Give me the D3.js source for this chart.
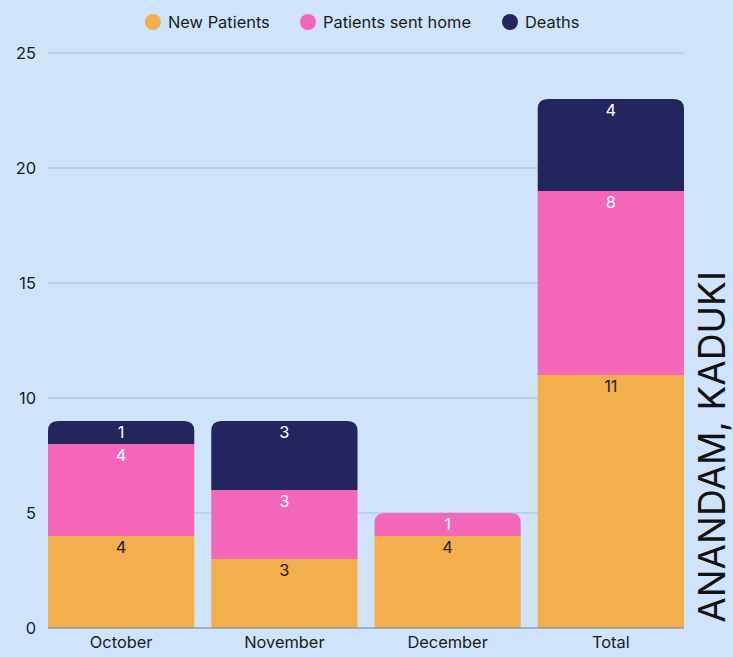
<!DOCTYPE html>
<html><head><meta charset="utf-8">
<script src="https://cdn.jsdelivr.net/npm/d3@7"></script>
<style>html,body{margin:0;padding:0;background:#cfe4fc;}svg{display:block;}</style>
</head><body><svg id="c" width="733" height="657"></svg>
<script>
const categories = ["October","November","December","Total"];
const seriesNames = ["New Patients","Patients sent home","Deaths"];
const newPatients = [4,3,4,11];
const sentHome = [4,3,1,8];
const deaths = [1,3,0,4];
const yTicks = [0,5,10,15,20,25];
const colors = ["#f3af4c","#f466b8","#23265e"];
const labelColors = ["#1a1a1a","#ffffff","#ffffff"];
const title = "ANANDAM, KADUKI";

const svg = d3.select("#c");
const font = "Inter, 'Noto Sans', sans-serif";
const fs = 16.4;
svg.append("rect").attr("width",733).attr("height",657).attr("fill","#cfe4fc");

const x = d3.scaleBand().domain(categories).range([48,684]).paddingInner(0.104).paddingOuter(0);
const y = d3.scaleLinear().domain([0,25]).range([628,53]);

// grid
svg.append("g").selectAll("line").data(yTicks.filter(d=>d>0)).join("line")
  .attr("x1",48).attr("x2",684).attr("y1",d=>y(d)).attr("y2",d=>y(d))
  .attr("stroke","#aabdd6").attr("stroke-width",1);

// y tick labels
svg.append("g").selectAll("text").data(yTicks).join("text")
  .attr("x",36).attr("y",d=>y(d)+5.5).attr("text-anchor","end")
  .attr("font-family",font).attr("font-size",fs).attr("fill","#1a1a1a").text(d=>d);

const data = categories.map((c,i)=>({cat:c, v:[newPatients[i],sentHome[i],deaths[i]]}));
const r = 10;
data.forEach(d=>{
  let base = 0;
  const top = d.v.reduce((a,b,i)=> b>0?i:a, 0);
  d.v.forEach((val,i)=>{
    if(val<=0) return;
    const x0 = x(d.cat), x1 = x0 + x.bandwidth();
    const yb = y(base), yt = y(base+val);
    let p;
    if(i===top){
      p = `M${x0},${yb}L${x0},${yt+r}Q${x0},${yt} ${x0+r},${yt}L${x1-r},${yt}Q${x1},${yt} ${x1},${yt+r}L${x1},${yb}Z`;
    } else {
      p = `M${x0},${yb}L${x0},${yt}L${x1},${yt}L${x1},${yb}Z`;
    }
    svg.append("path").attr("d",p).attr("fill",colors[i]);
    svg.append("text").attr("x",(x0+x1)/2).attr("y",yt+17).attr("text-anchor","middle")
      .attr("font-family",font).attr("font-size",fs).attr("fill",labelColors[i]).text(val);
    base += val;
  });
});

// baseline
svg.append("line").attr("x1",48).attr("x2",684).attr("y1",y(0)).attr("y2",y(0))
  .attr("stroke","#6f7b8c").attr("stroke-width",1);

// x labels
svg.append("g").selectAll("text").data(categories).join("text")
  .attr("x",d=>x(d)+x.bandwidth()/2).attr("y",648).attr("text-anchor","middle")
  .attr("font-family",font).attr("font-size",fs).attr("fill","#1a1a1a").text(d=>d);

// legend
const legX = [153,308,510];
seriesNames.forEach((n,i)=>{
  svg.append("circle").attr("cx",legX[i]).attr("cy",22).attr("r",8).attr("fill",colors[i]);
  svg.append("text").attr("x",legX[i]+15).attr("y",28).attr("font-family",font)
    .attr("font-size",fs).attr("fill","#1a1a1a").text(n);
});

// right title
svg.append("text").attr("transform","translate(725,447) rotate(-90)")
  .attr("text-anchor","middle").attr("font-family",font).attr("font-size",37)
  .attr("fill","#111").text(title);
</script></body></html>
